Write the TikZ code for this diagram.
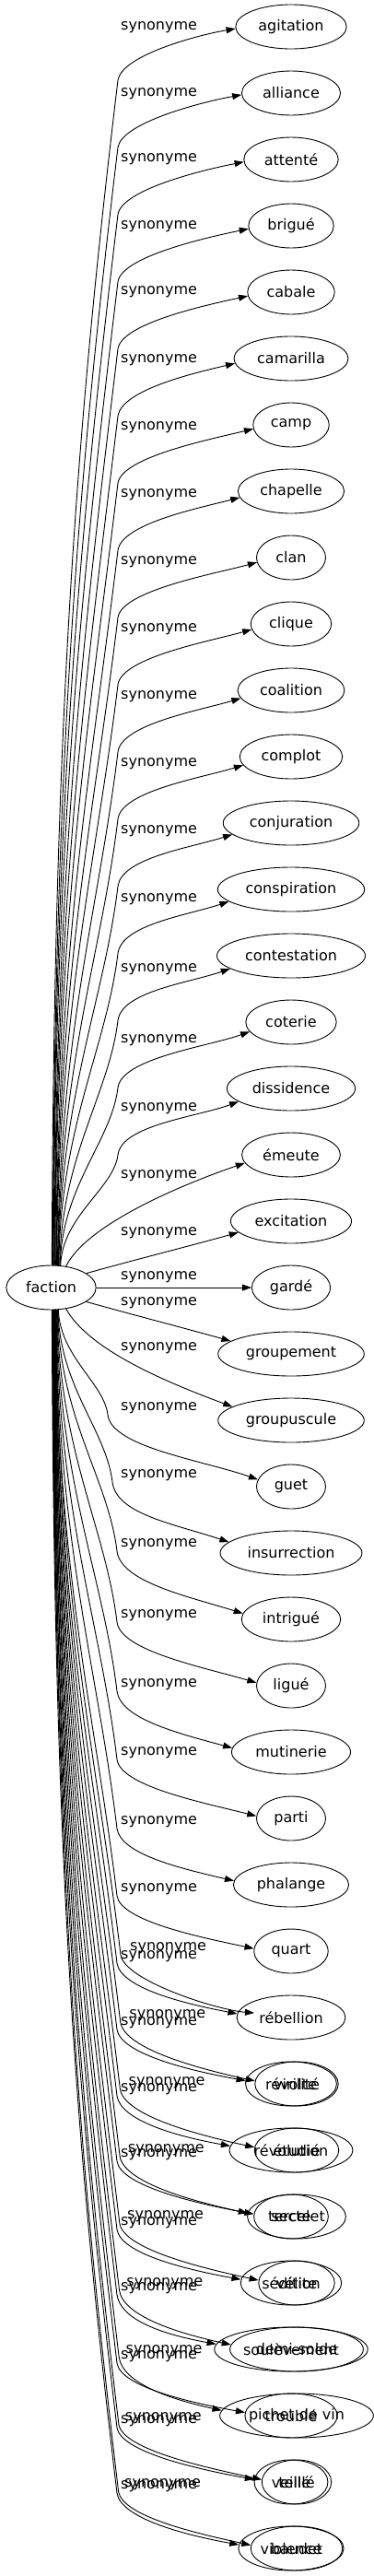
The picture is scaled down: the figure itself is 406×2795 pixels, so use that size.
\documentclass[tikz,border=0pt]{standalone}
\usepackage{fontspec}
\setmainfont{DejaVu Sans}
\usetikzlibrary{arrows.meta, shapes.geometric}

\begin{document}
\begin{tikzpicture}[x=1pt, y=-1pt,
    mot/.style={draw, ellipse, line width=0.9pt, inner xsep=7pt, inner ysep=2pt,
        minimum width=75pt, minimum height=48pt, font=\fontsize{16}{19}\selectfont},
    lien/.style={line width=0.9pt, -{Triangle[length=10pt,width=7pt]}},
    etiq/.style={anchor=west, inner sep=0pt, font=\fontsize{16}{19}\selectfont}]
    \useasboundingbox (0,0) rectangle (406,2795);
    % Root
    \node[mot] (faction) at (55.5,1397) {faction};
    % Synonyms and their labels
    \foreach \nom/\txt/\dl [count=\i from 0] in {agitation/agitation/1, alliance/alliance/1,
        attente/attenté/0, brigue/brigué/1, cabale/cabale/0, camarilla/camarilla/2, camp/camp/3,
        chapelle/chapelle/4, clan/clan/5, clique/clique/6, coalition/coalition/7, complot/complot/8,
        conjuration/conjuration/9, conspiration/conspiration/11, contestation/contestation/15,
        coterie/coterie/20, dissidence/dissidence/22, emeute/émeute/23, excitation/excitation/13,
        garde/gardé/-11, groupement/groupement/-55, groupuscule/groupuscule/-78, guet/guet/-85,
        insurrection/insurrection/-84, intrigue/intrigué/-81, ligue/ligué/-76,
        mutinerie/mutinerie/-73, parti/parti/-71, phalange/phalange/-68, quart/quart/-67,
        rebellion/rébellion/-66, revolte/révolte/-66, revolution/révolution/-66, secte/secte/-67,
        sedition/sédition/-65, soulevement/soulèvement/-66, trouble/troublé/-64,
        veille/veillé/-66, violence/violence/-67} {
        \node[mot] (\nom) at (316,{29+72*\i}) {\txt};
        \node[etiq] (l\i) at (131,{29+72*\i+(\dl)}) {synonyme};
    }
    % Second row of nodes at the bottom
    \foreach \nom/\txt [count=\k from 1] in {s1/virilité, s2/étudié, s3/tercelet, s4/vélite,
        s5/demi-solde, s6/pichet de vin, s7/teillé, s8/baudet} {
        \node[mot] (\nom) at (322,{29+72*(30+\k)}) {\txt};
    }
    \coordinate (s0) at (276,2184);
    % Upper edges
    \foreach \nom [count=\i from 0] in {agitation, alliance, attente, brigue, cabale, camarilla,
        camp, chapelle, clan, clique, coalition, complot, conjuration, conspiration,
        contestation, coterie, dissidence} {
        \pgfmathsetmacro\y{29+72*\i}
        \pgfmathsetmacro\ky{\y+58+14*\i/16}
        \pgfmathsetmacro\h{1373-\ky}
        \pgfmathtruncatemacro\a{88-1.3*\i}
        \pgfmathtruncatemacro\e{182+12*\i/16}
        \pgfmathsetmacro\s{45*(0.17+0.2*\i/16)}
        \draw[lien] (faction.\a) .. controls +(2,{-0.45*\h}) and +({-0.036*\h},{0.3*\h}) .. (128,\ky)
            .. controls +(4,{-0.45*(\ky-\y)}) and +(-45,\s) .. (\nom.\e);
    }
    % Middle edges
    \draw[lien] (faction.55) .. controls +(22,-45) and +(-70,24) .. (emeute.190);
    \draw[lien] (faction.22) .. controls +(50,-14) and +(-50,14) .. (excitation.192);
    \draw[lien] (faction) -- (garde);
    \draw[lien] (faction.338) .. controls +(50,14) and +(-50,-14) .. (groupement.168);
    \draw[lien] (faction.305) .. controls +(25,45) and +(-70,-26) .. (groupuscule.167);
    % Lower edges
    \foreach \nom/\dl [count=\j from 22] in {guet/-85, insurrection/-84, intrigue/-81, ligue/-76,
        mutinerie/-73, parti/-71, phalange/-68, quart/-67, rebellion/-66, revolte/-66,
        revolution/-66, secte/-67, sedition/-65, soulevement/-66, trouble/-64, veille/-66,
        violence/-67} {
        \pgfmathsetmacro\y{29+72*\j}
        \pgfmathsetmacro\ky{\y+(\dl)+7}
        \pgfmathsetmacro\kx{min(127,117+5*(\j-22))}
        \pgfmathsetmacro\h{\ky-1421}
        \pgfmathtruncatemacro\a{288-(\j-22)}
        \pgfmathtruncatemacro\e{min(176,168+2.5*(\j-22))}
        \pgfmathsetmacro\s{60*max(0.18,0.35-0.02*(\j-22))}
        \draw[lien] (faction.\a) .. controls +(2,{0.45*\h}) and +({-0.036*\h},{-0.3*\h}) .. (\kx,\ky)
            .. controls +(4,{0.45*(\y-\ky)}) and +(-60,{-\s}) .. (\nom.\e);
    }
    % Edges of the second row
    \node[etiq] (m0) at (141,2114) {synonyme};
    \draw[lien] (faction.282) .. controls +(2,313) and +(-25,-209) .. (131,2121)
        .. controls +(4,28) and +(-40,-3) .. (s0);
    \foreach \k in {1,...,8} {
        \pgfmathsetmacro\y{29+72*(30+\k)}
        \pgfmathsetmacro\dx{10-0.75*\k}
        \pgfmathsetmacro\dy{-9+0.75*\k}
        \pgfmathsetmacro\ky{\y-59+\dy}
        \pgfmathsetmacro\h{\ky-1421}
        \pgfmathtruncatemacro\a{282-\k}
        \node[etiq] (m\k) at ({131+\dx},{\y-66+\dy}) {synonyme};
        \draw[lien] (faction.\a) .. controls +(2,{0.45*\h}) and +({-0.036*\h},{-0.3*\h}) .. ({127+0.4*\dx},\ky)
            .. controls +(4,{0.45*(\y-\ky)}) and +(-55,-12) .. (s\k.176);
    }
\end{tikzpicture}
\end{document}
